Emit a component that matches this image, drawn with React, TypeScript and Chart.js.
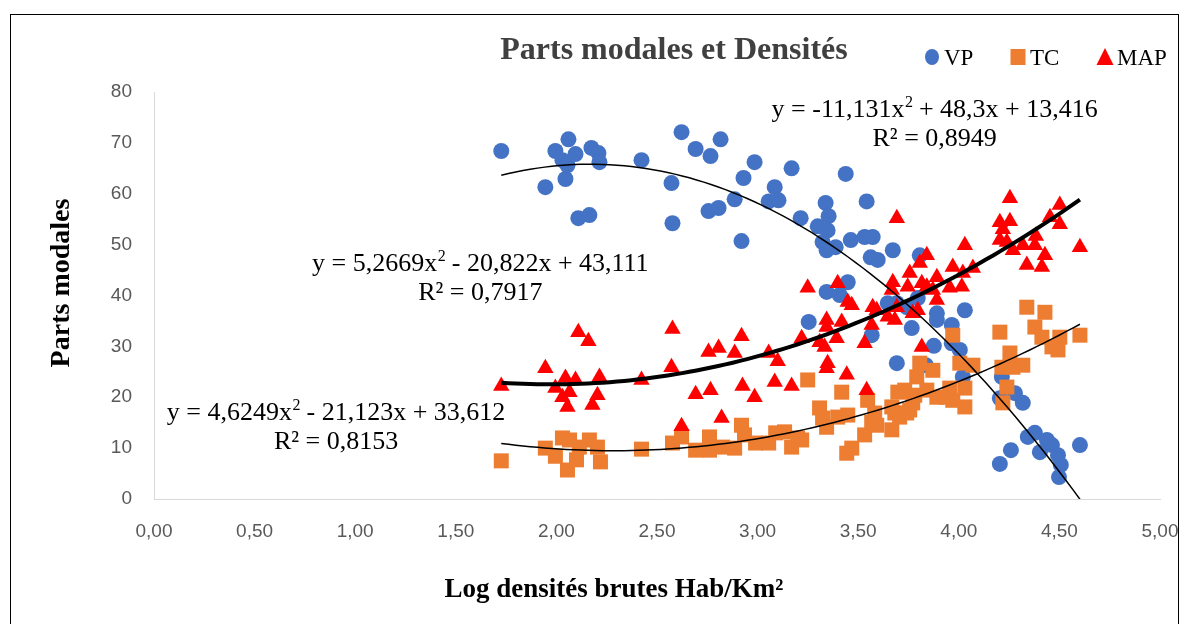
import React, { useEffect, useRef } from 'react';
import { Chart, registerables } from 'chart.js';
Chart.register(...registerables);

const chartTitle = 'Parts modales et Densités';
const xAxisTitle = 'Log densités brutes Hab/Km²';
const yAxisTitle = 'Parts modales';
const seriesLabels = ['VP', 'TC', 'MAP'];

const vpX = [1.726, 1.945, 1.995, 2.060, 2.045, 2.030, 2.055, 2.095, 2.109, 2.164, 2.174, 2.209, 2.214, 2.423, 2.572, 2.577, 2.622, 2.692, 2.766, 2.816, 2.756, 2.806, 2.886, 2.930, 2.920, 2.985, 3.085, 3.055, 3.104, 3.169, 3.214, 3.438, 3.338, 3.542, 3.353, 3.299, 3.348, 3.323, 3.343, 3.388, 3.463, 3.532, 3.572, 3.672, 3.562, 3.597, 3.806, 3.448, 3.343, 3.408, 3.254, 3.567, 3.647, 3.692, 3.741, 3.796, 3.766, 3.891, 3.891, 3.965, 4.030, 3.876, 3.836, 3.965, 4.005, 3.692, 4.020, 4.214, 4.204, 4.279, 4.318, 4.343, 4.378, 4.438, 4.463, 4.403, 4.493, 4.507, 4.498, 4.602, 4.259, 4.204];
const vpY = [68.4, 61.3, 68.4, 70.7, 62.9, 66.6, 65.6, 67.8, 55.2, 55.8, 69.0, 68.0, 66.2, 66.6, 62.1, 54.2, 72.1, 68.8, 67.4, 70.7, 56.6, 57.2, 58.9, 63.1, 50.7, 66.2, 61.3, 58.5, 58.7, 65.0, 55.2, 63.9, 58.2, 58.5, 55.6, 53.6, 52.8, 50.5, 48.9, 49.5, 50.9, 51.5, 51.5, 48.9, 47.5, 47.0, 47.9, 42.6, 40.7, 40.1, 34.8, 32.2, 38.5, 38.5, 37.7, 39.5, 33.6, 36.5, 35.2, 34.2, 37.1, 30.1, 26.3, 30.6, 29.3, 26.7, 24.0, 24.0, 19.8, 20.8, 18.9, 12.2, 13.0, 11.6, 10.6, 9.2, 8.6, 6.7, 4.3, 10.6, 9.6, 6.9];

const tcX = [1.726, 1.945, 1.995, 2.030, 2.055, 2.100, 2.114, 2.065, 2.164, 2.204, 2.219, 2.423, 2.577, 2.622, 2.692, 2.761, 2.761, 2.826, 2.886, 2.920, 2.935, 2.990, 3.055, 3.090, 3.169, 3.199, 3.134, 3.219, 3.249, 3.308, 3.323, 3.343, 3.398, 3.448, 3.418, 3.443, 3.468, 3.547, 3.532, 3.567, 3.582, 3.592, 3.667, 3.667, 3.697, 3.682, 3.741, 3.771, 3.806, 3.791, 3.781, 3.841, 3.871, 3.891, 3.940, 3.970, 4.005, 4.030, 4.030, 4.070, 4.204, 4.254, 4.214, 4.269, 4.318, 4.239, 4.219, 4.338, 4.428, 4.378, 4.413, 4.463, 4.502, 4.493, 4.602, 3.731, 3.756, 3.706, 3.955, 3.970];
const tcY = [7.5, 10.0, 8.4, 12.0, 5.7, 7.7, 10.2, 11.6, 11.6, 10.2, 7.3, 9.8, 11.0, 12.2, 9.6, 12.2, 9.6, 10.2, 10.0, 14.5, 12.6, 11.0, 11.0, 13.0, 10.2, 12.0, 13.2, 11.6, 23.4, 17.9, 15.9, 14.1, 16.1, 16.5, 21.0, 9.0, 10.0, 19.4, 12.6, 15.1, 16.9, 14.5, 18.1, 13.6, 21.0, 16.9, 16.9, 18.9, 26.7, 24.0, 20.4, 21.4, 25.3, 20.0, 20.0, 32.2, 26.7, 21.8, 18.1, 26.3, 32.8, 28.7, 25.9, 25.9, 26.3, 22.0, 18.9, 37.7, 36.7, 33.8, 31.8, 29.9, 31.8, 29.3, 32.2, 21.4, 17.5, 16.1, 21.8, 19.4];

const mapX = [1.726, 1.945, 1.995, 2.045, 2.030, 2.065, 2.055, 2.095, 2.109, 2.159, 2.214, 2.204, 2.179, 2.423, 2.577, 2.572, 2.622, 2.692, 2.766, 2.756, 2.806, 2.821, 2.886, 2.920, 2.925, 2.985, 3.055, 3.085, 3.100, 3.169, 3.249, 3.398, 3.448, 3.468, 3.343, 3.343, 3.418, 3.308, 3.333, 3.393, 3.348, 3.343, 3.219, 3.443, 3.542, 3.532, 3.567, 3.572, 3.592, 3.692, 3.672, 3.667, 3.682, 3.692, 3.647, 3.756, 3.746, 3.806, 3.841, 3.816, 3.771, 3.796, 3.816, 3.841, 3.891, 3.891, 3.871, 3.955, 3.970, 4.015, 4.030, 4.020, 4.070, 4.254, 4.204, 4.254, 4.219, 4.204, 4.239, 4.269, 4.318, 4.338, 4.383, 4.378, 4.428, 4.413, 4.453, 4.502, 4.502, 4.602];
const mapY = [22.2, 25.7, 21.8, 23.8, 20.0, 21.0, 18.1, 23.4, 32.8, 31.0, 24.0, 20.4, 18.5, 23.4, 33.4, 25.9, 14.3, 20.6, 21.4, 28.9, 29.7, 15.9, 28.7, 32.0, 22.2, 20.0, 28.7, 23.0, 27.1, 22.2, 41.5, 42.4, 38.7, 38.1, 35.2, 33.8, 34.8, 30.8, 29.9, 31.6, 26.7, 25.7, 31.6, 24.4, 21.4, 30.6, 34.2, 37.7, 37.1, 55.2, 42.6, 41.1, 35.2, 37.7, 35.8, 44.4, 41.7, 46.4, 47.9, 29.9, 36.5, 37.1, 42.4, 41.7, 43.6, 39.1, 41.1, 41.5, 45.6, 41.7, 49.9, 44.4, 45.4, 59.1, 54.4, 54.6, 53.0, 50.9, 50.5, 48.9, 49.9, 46.0, 51.7, 49.9, 47.9, 45.6, 55.4, 57.8, 54.0, 49.5];

// Polynomial trend lines (Excel order 2), coefficients [a, b, c] of a x² + b x + c
const vpTrendCoef = [-11.131, 48.3, 13.416];
const tcTrendCoef = [4.6249, -21.123, 33.612];
const mapTrendCoef = [5.2669, -20.822, 43.111];
const trendRange = [1.726, 4.602];

const vpEquation = ['y = -11,131x', '2', ' + 48,3x + 13,416'];
const vpR2 = 'R² = 0,8949';
const mapEquation = ['y = 5,2669x', '2', ' - 20,822x + 43,111'];
const mapR2 = 'R² = 0,7917';
const tcEquation = ['y = 4,6249x', '2', ' - 21,123x + 33,612'];
const tcR2 = 'R² = 0,8153';

const VP_COLOR = '#4472C4';
const TC_COLOR = '#ED7D31';
const MAP_COLOR = '#FF0000';

function toPoints(xs: number[], ys: number[]) {
  return xs.map((x, i) => ({ x, y: ys[i] }));
}

function trendPoints(coef: number[]) {
  const pts: { x: number; y: number }[] = [];
  const n = 80;
  for (let i = 0; i <= n; i++) {
    const x = trendRange[0] + ((trendRange[1] - trendRange[0]) * i) / n;
    pts.push({ x, y: coef[0] * x * x + coef[1] * x + coef[2] });
  }
  return pts;
}

const SERIF = '"Liberation Serif", "Times New Roman", serif';
const SANS = '"Liberation Sans", Arial, sans-serif';

function drawEquation(ctx: CanvasRenderingContext2D, parts: string[], cx: number, cy: number) {
  const main = `26px ${SERIF}`;
  const sup = `16px ${SERIF}`;
  ctx.font = main;
  const w0 = ctx.measureText(parts[0]).width;
  const w2 = ctx.measureText(parts[2]).width;
  ctx.font = sup;
  const w1 = ctx.measureText(parts[1]).width;
  const total = w0 + w1 + w2;
  let x = cx - total / 2;
  ctx.textAlign = 'left';
  ctx.textBaseline = 'alphabetic';
  ctx.font = main;
  ctx.fillText(parts[0], x, cy);
  x += w0;
  ctx.font = sup;
  ctx.fillText(parts[1], x + 0.5, cy - 10);
  x += w1;
  ctx.font = main;
  ctx.fillText(parts[2], x, cy);
}

const annotationPlugin = {
  id: 'annotations',
  afterDraw(chart: any) {
    const ctx: CanvasRenderingContext2D = chart.ctx;
    const xs = chart.scales.x;
    const ys = chart.scales.y;
    ctx.save();
    ctx.fillStyle = '#000';
    const eqs = [
      { parts: vpEquation, r2: vpR2, x: 3.88, y: 75.0 },
      { parts: mapEquation, r2: mapR2, x: 1.622, y: 44.8 },
      { parts: tcEquation, r2: tcR2, x: 0.905, y: 15.5 },
    ];
    eqs.forEach((e) => {
      const px = xs.getPixelForValue(e.x);
      const py = ys.getPixelForValue(e.y);
      drawEquation(ctx, e.parts, px, py);
      ctx.font = `26px ${SERIF}`;
      ctx.textAlign = 'center';
      ctx.fillText(e.r2, px, py + 29);
    });

    // title
    ctx.fillStyle = '#404040';
    ctx.font = `bold 32px ${SERIF}`;
    ctx.textAlign = 'center';
    ctx.textBaseline = 'alphabetic';
    ctx.fillText(chartTitle, 674, 59);

    // legend
    ctx.font = `23px ${SERIF}`;
    ctx.textAlign = 'left';
    const markerCenters = [932, 1018, 1105];
    const ds = chart.data.datasets;
    for (let i = 0; i < 3; i++) {
      const d = ds[i];
      const cx = markerCenters[i];
      const cy = 57;
      ctx.fillStyle = d.backgroundColor;
      ctx.beginPath();
      if (d.pointStyle === 'circle') {
        ctx.ellipse(cx, cy, 7, 8, 0, 0, Math.PI * 2);
      } else if (d.pointStyle === 'rect') {
        ctx.rect(cx - 7.5, cy - 8, 15, 16);
      } else {
        ctx.moveTo(cx, cy - 9);
        ctx.lineTo(cx + 8.5, cy + 8);
        ctx.lineTo(cx - 8.5, cy + 8);
        ctx.closePath();
      }
      ctx.fill();
      ctx.fillStyle = '#000';
      ctx.fillText(d.label, cx + 12, 65);
    }

    // axis titles
    ctx.fillStyle = '#000';
    ctx.font = `bold 27px ${SERIF}`;
    ctx.textAlign = 'center';
    ctx.textBaseline = 'middle';
    ctx.fillText(xAxisTitle, 614, 590);
    ctx.save();
    ctx.translate(62, 283);
    ctx.rotate(-Math.PI / 2);
    ctx.font = `bold 28px ${SERIF}`;
    ctx.fillText(yAxisTitle, 0, 0);
    ctx.restore();
    ctx.restore();
  },
};

export default function App() {
  const ref = useRef<HTMLCanvasElement | null>(null);
  useEffect(() => {
    if (!ref.current) return;
    const chart = new Chart(ref.current, {
      type: 'scatter',
      data: {
        datasets: [
          {
            label: seriesLabels[0],
            data: toPoints(vpX, vpY),
            backgroundColor: VP_COLOR,
            borderColor: VP_COLOR,
            borderWidth: 0,
            pointStyle: 'circle',
            pointRadius: 8,
            order: 4,
          },
          {
            label: seriesLabels[1],
            data: toPoints(tcX, tcY),
            backgroundColor: TC_COLOR,
            borderColor: TC_COLOR,
            borderWidth: 0,
            pointStyle: 'rect',
            pointRadius: 10.6,
            order: 3,
          },
          {
            label: seriesLabels[2],
            data: toPoints(mapX, mapY),
            backgroundColor: MAP_COLOR,
            borderColor: MAP_COLOR,
            borderWidth: 0,
            pointStyle: 'triangle',
            pointRadius: 9.5,
            order: 2,
          },
          {
            label: 'Poly. (VP)',
            type: 'line',
            data: trendPoints(vpTrendCoef),
            borderColor: '#000',
            borderWidth: 1.5,
            pointRadius: 0,
            fill: false,
            tension: 0,
            order: 1,
          } as any,
          {
            label: 'Poly. (TC)',
            type: 'line',
            data: trendPoints(tcTrendCoef),
            borderColor: '#000',
            borderWidth: 1.5,
            pointRadius: 0,
            fill: false,
            tension: 0,
            order: 1,
          } as any,
          {
            label: 'Poly. (MAP)',
            type: 'line',
            data: trendPoints(mapTrendCoef),
            borderColor: '#000',
            borderWidth: 4,
            pointRadius: 0,
            fill: false,
            tension: 0,
            order: 0,
          } as any,
        ],
      },
      options: {
        animation: false,
        responsive: false,
        maintainAspectRatio: false,
        layout: { padding: { left: 0, right: 26, top: 92, bottom: 0 } },
        plugins: {
          legend: { display: false },
          tooltip: { enabled: false },
          title: { display: false },
        },
        scales: {
          x: {
            type: 'linear',
            min: 0,
            max: 5,
            ticks: {
              stepSize: 0.5,
              padding: 21,
              color: '#595959',
              font: { family: SANS, size: 19 },
              callback: (v: any) => Number(v).toFixed(2).replace('.', ','),
            },
            grid: { display: false, drawTicks: false },
            border: { display: true, color: '#D9D9D9', width: 1 },
            afterFit: (s: any) => { s.height = 125; s.paddingLeft = 0; s.paddingRight = 0; },
          },
          y: {
            type: 'linear',
            min: 0,
            max: 80,
            ticks: {
              stepSize: 10,
              padding: 22,
              color: '#595959',
              font: { family: SANS, size: 19 },
            },
            grid: { display: false, drawTicks: false },
            border: { display: true, color: '#D9D9D9', width: 1 },
            afterFit: (s: any) => { s.width = 154; s.paddingTop = 0; s.paddingBottom = 0; },
          },
        },
      },
      plugins: [annotationPlugin],
    });
    return () => chart.destroy();
  }, []);

  return (
    <div style={{ position: 'fixed', left: 0, top: 0, width: 1186, height: 624, overflow: 'hidden', background: '#fff' }}>
      <canvas ref={ref} width={1186} height={624} style={{ position: 'absolute', left: 0, top: 0, width: 1186, height: 624 }} />
      <div style={{ position: 'absolute', left: 10, top: 14, width: 1169, height: 700, border: '1px solid #000', boxSizing: 'border-box', pointerEvents: 'none' }} />
    </div>
  );
}
